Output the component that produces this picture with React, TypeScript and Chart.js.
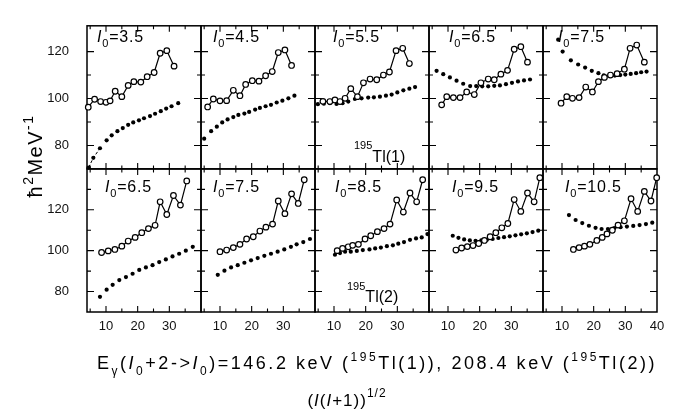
import { useEffect, useRef } from "react";
import { Chart, registerables } from "chart.js";

Chart.register(...registerables);

const FONT = "'Liberation Sans', Arial, sans-serif";

// panel labels (I0 values)
const I0_TOP = ["3.5", "4.5", "5.5", "6.5", "7.5"];
const I0_BOTTOM = ["6.5", "7.5", "8.5", "9.5", "10.5"];

// tick labels
const X_TICKS = [10, 20, 30];
const X_TICKS_LAST = [10, 20, 30, 40];
const Y_TICKS = [80, 100, 120];
const X_MINOR = [5, 10, 15, 20, 25, 30, 35];
const Y_MINOR = [80, 90, 100, 110, 120, 130];

// ---- top row: 195Tl(1) ----
const t1OpenX = [4.4, 6.4, 8.3, 10.0, 11.3, 12.9, 15.0, 17.0, 18.8, 21.0, 23.0, 25.2, 27.1, 29.2, 31.5];
const t1OpenY = [96.3, 99.7, 98.7, 98.4, 99.0, 103.1, 100.8, 105.6, 107.2, 107.0, 109.3, 111.1, 119.3, 120.4, 113.8];
const t1CalcX = [4.5, 6.0, 8.1, 10.2, 11.8, 13.6, 15.3, 17.0, 18.6, 20.4, 22.0, 23.9, 25.5, 27.3, 29.0, 30.7, 32.8];
const t1CalcY = [70.6, 74.7, 78.8, 82.2, 84.3, 86.1, 87.4, 88.8, 89.8, 90.7, 91.6, 92.5, 93.5, 94.6, 95.7, 96.7, 98.0];

const t2OpenX = [6.1, 7.9, 10.0, 12.1, 14.2, 16.3, 18.1, 20.2, 22.3, 24.4, 26.5, 28.4, 30.5, 32.6];
const t2OpenY = [96.4, 99.8, 99.0, 99.1, 103.5, 101.2, 106.0, 107.6, 107.4, 109.7, 111.5, 119.6, 120.7, 114.1];
const t2CalcX = [5.0, 7.2, 9.0, 10.7, 12.4, 14.2, 15.8, 17.7, 19.2, 21.1, 22.6, 24.4, 26.1, 27.9, 29.7, 31.6, 33.5];
const t2CalcY = [82.9, 86.1, 88.0, 89.8, 91.1, 92.1, 93.0, 93.6, 94.3, 95.3, 96.0, 96.7, 97.3, 98.3, 99.1, 100.1, 101.2];

const t3OpenX = [6.5, 8.7, 10.3, 11.9, 13.5, 15.3, 17.4, 19.3, 21.4, 23.5, 25.6, 27.5, 29.6, 31.7, 33.8];
const t3OpenY = [98.8, 98.7, 99.4, 98.7, 100.1, 104.2, 100.8, 106.7, 108.3, 108.0, 110.0, 111.3, 120.4, 121.4, 114.9];
const t3CalcX = [4.9, 6.8, 8.7, 10.8, 12.7, 14.5, 16.6, 18.7, 20.8, 22.6, 24.5, 26.4, 28.2, 30.0, 31.9, 33.8, 35.6];
const t3CalcY = [97.6, 97.8, 98.0, 97.7, 98.0, 98.7, 99.8, 100.1, 100.4, 100.5, 100.8, 101.2, 101.7, 102.6, 103.5, 104.2, 104.9];

const t4OpenX = [8.0, 9.6, 11.7, 13.8, 15.9, 18.3, 20.4, 22.7, 24.6, 26.7, 28.8, 30.9, 33.0, 35.1];
const t4OpenY = [97.3, 100.8, 100.4, 100.4, 102.8, 101.7, 106.7, 108.3, 108.0, 110.4, 112.0, 121.0, 122.1, 115.5];
const t4CalcX = [6.4, 8.5, 10.6, 12.7, 14.8, 17.0, 18.9, 20.8, 22.7, 24.6, 26.4, 28.3, 30.2, 32.1, 34.0, 35.9];
const t4CalcY = [111.8, 110.4, 109.0, 107.6, 106.3, 105.3, 105.3, 105.2, 105.2, 105.4, 105.6, 106.1, 106.7, 107.3, 107.7, 108.1];

const t5OpenX = [9.7, 11.5, 13.3, 15.4, 17.5, 19.6, 21.5, 23.4, 25.3, 27.4, 29.7, 31.5, 33.6, 36.0];
const t5OpenY = [98.0, 100.8, 100.1, 100.4, 104.9, 102.8, 107.2, 109.0, 110.0, 110.6, 112.5, 121.4, 122.8, 115.5];
const t5CalcX = [8.8, 10.2, 12.8, 15.1, 17.3, 19.4, 21.5, 23.2, 25.0, 26.7, 28.4, 30.0, 31.7, 33.4, 35.0, 36.7];
const t5CalcY = [125.1, 120.0, 116.3, 114.5, 113.2, 111.8, 110.8, 109.9, 109.7, 109.8, 110.0, 110.2, 110.5, 110.8, 111.2, 111.5];

// ---- bottom row: 195Tl(2) ----
const b1OpenX = [8.6, 10.7, 12.8, 15.0, 17.0, 19.2, 21.3, 23.4, 25.5, 27.1, 29.2, 31.3, 33.5, 35.5];
const b1OpenY = [99.1, 99.9, 100.6, 102.2, 104.7, 106.5, 108.8, 110.8, 112.4, 123.9, 117.7, 127.0, 122.3, 134.1];
const b1CalcX = [8.1, 10.2, 12.1, 14.2, 16.3, 18.4, 20.5, 22.6, 24.7, 26.8, 28.9, 31.0, 33.1, 35.2, 37.4];
const b1CalcY = [77.4, 80.9, 83.3, 85.6, 87.1, 88.7, 90.6, 91.8, 92.9, 94.4, 95.7, 97.2, 98.5, 100.0, 101.9];

const b2OpenX = [10.0, 12.1, 14.2, 16.3, 18.4, 20.5, 22.6, 24.5, 26.6, 28.4, 30.5, 32.6, 34.7, 36.6];
const b2OpenY = [99.5, 100.3, 101.5, 103.1, 105.7, 106.8, 109.6, 111.5, 113.0, 124.3, 118.1, 127.8, 123.1, 134.7];
const b2CalcX = [9.3, 11.4, 13.5, 15.6, 17.7, 19.8, 21.9, 24.0, 26.1, 28.2, 30.3, 32.4, 34.2, 36.3, 38.4];
const b2CalcY = [88.2, 90.2, 91.8, 92.9, 94.1, 95.3, 96.4, 97.5, 98.5, 99.5, 100.6, 101.9, 103.1, 104.2, 105.7];

const b3OpenX = [11.0, 12.7, 14.5, 15.9, 17.7, 19.8, 21.6, 23.7, 25.8, 27.7, 29.8, 31.9, 34.0, 36.1, 38.0];
const b3OpenY = [100.0, 101.1, 101.9, 102.6, 103.1, 105.7, 107.3, 109.3, 110.8, 113.0, 124.8, 118.9, 128.2, 123.9, 134.7];
const b3CalcX = [10.3, 11.9, 13.5, 15.3, 17.2, 19.1, 21.2, 23.0, 24.8, 26.7, 28.6, 30.3, 32.1, 34.0, 35.9, 37.7, 39.5];
const b3CalcY = [98.0, 98.8, 99.5, 99.5, 99.9, 100.3, 100.6, 101.1, 101.5, 102.2, 102.6, 103.4, 104.2, 105.3, 106.0, 106.5, 108.1];

const b4OpenX = [12.5, 14.3, 16.1, 17.9, 19.7, 21.5, 23.3, 25.1, 27.0, 28.9, 30.9, 33.0, 35.1, 37.2, 39.0];
const b4OpenY = [100.3, 101.3, 102.0, 102.5, 103.5, 105.0, 106.8, 108.8, 111.2, 113.3, 125.0, 119.2, 128.2, 123.9, 135.7];
const b4CalcX = [11.5, 13.3, 15.1, 16.9, 18.7, 20.5, 22.3, 24.1, 25.9, 27.7, 29.5, 31.3, 33.1, 34.9, 36.7, 38.5];
const b4CalcY = [107.3, 106.3, 105.5, 105.0, 104.8, 105.0, 105.3, 105.7, 106.2, 106.6, 107.0, 107.5, 108.0, 108.5, 109.1, 109.8];

const b5OpenX = [13.6, 15.4, 17.1, 18.8, 21.0, 22.7, 24.2, 25.9, 27.7, 29.7, 31.8, 33.9, 36.0, 38.1, 39.9];
const b5OpenY = [100.6, 101.5, 102.2, 103.1, 105.0, 106.5, 108.2, 110.0, 112.5, 114.6, 125.4, 119.2, 129.0, 124.3, 135.7];
const b5CalcX = [12.2, 14.3, 16.4, 18.5, 20.6, 22.5, 24.5, 26.5, 28.5, 30.5, 32.5, 34.5, 36.5, 38.5];
const b5CalcY = [117.4, 115.0, 113.5, 112.2, 111.2, 110.6, 110.6, 111.0, 111.5, 111.8, 112.1, 112.5, 113.0, 113.7];

const PANELS = [
  { ox: t1OpenX, oy: t1OpenY, cx: t1CalcX, cy: t1CalcY },
  { ox: t2OpenX, oy: t2OpenY, cx: t2CalcX, cy: t2CalcY },
  { ox: t3OpenX, oy: t3OpenY, cx: t3CalcX, cy: t3CalcY },
  { ox: t4OpenX, oy: t4OpenY, cx: t4CalcX, cy: t4CalcY },
  { ox: t5OpenX, oy: t5OpenY, cx: t5CalcX, cy: t5CalcY },
  { ox: b1OpenX, oy: b1OpenY, cx: b1CalcX, cy: b1CalcY },
  { ox: b2OpenX, oy: b2OpenY, cx: b2CalcX, cy: b2CalcY },
  { ox: b3OpenX, oy: b3OpenY, cx: b3CalcX, cy: b3CalcY },
  { ox: b4OpenX, oy: b4OpenY, cx: b4CalcX, cy: b4CalcY },
  { ox: b5OpenX, oy: b5OpenY, cx: b5CalcX, cy: b5CalcY },
];

type Seg = { t: string; k?: "i" | "sub" | "sup" };

function segFont(k: string | undefined, size: number) {
  const s = k === "sub" || k === "sup" ? Math.round(size * 0.68) : size;
  return `${k === "i" ? "italic " : ""}${s}px ${FONT}`;
}

function measureRich(ctx: CanvasRenderingContext2D, segs: Seg[], size: number, spacing: number) {
  let w = 0;
  let n = 0;
  for (const s of segs) {
    ctx.font = segFont(s.k, size);
    for (const ch of Array.from(s.t)) {
      w += ctx.measureText(ch).width + spacing;
      n++;
    }
  }
  return { w, n };
}

function drawRich(
  ctx: CanvasRenderingContext2D,
  segs: Seg[],
  x: number,
  y: number,
  size: number,
  opts: { spacing?: number; supShift?: number; subShift?: number; align?: "left" | "center" } = {}
) {
  const spacing = opts.spacing ?? 0;
  const supShift = opts.supShift ?? size * 0.42;
  const subShift = opts.subShift ?? size * 0.3;
  const { w } = measureRich(ctx, segs, size, spacing);
  let cx = opts.align === "center" ? x - w / 2 : x;
  ctx.textAlign = "left";
  ctx.textBaseline = "alphabetic";
  for (const s of segs) {
    ctx.font = segFont(s.k, size);
    const dy = s.k === "sub" ? subShift : s.k === "sup" ? -supShift : 0;
    for (const ch of Array.from(s.t)) {
      ctx.fillText(ch, cx, y + dy);
      cx += ctx.measureText(ch).width + spacing;
    }
  }
  return w;
}

const annotPlugin = {
  id: "panelFrames",
  beforeDatasetsDraw(chart: any) {
    const ctx: CanvasRenderingContext2D = chart.ctx;
    ctx.save();
    ctx.strokeStyle = "#000";
    for (const yId of ["yT", "yB"]) {
      const ys = chart.scales[yId];
      for (let c = 0; c < 5; c++) {
        const xs = chart.scales["x" + c];
        const L = xs.left, R = xs.right, T = ys.top, B = ys.bottom;
        ctx.lineWidth = 1.5;
        ctx.strokeRect(L, T, R - L, B - T);
        ctx.lineWidth = 1.1;
        ctx.beginPath();
        for (const v of X_MINOR) {
          const px = xs.getPixelForValue(v);
          if (px <= L + 2 || px >= R - 2) continue;
          const len = v % 10 === 0 ? 6 : 3.5;
          ctx.moveTo(px, B); ctx.lineTo(px, B - len);
          ctx.moveTo(px, T); ctx.lineTo(px, T + len);
        }
        for (const v of Y_MINOR) {
          const py = ys.getPixelForValue(v);
          if (py <= T + 3 || py >= B - 3) continue;
          const len = v % 20 === 0 ? 7 : 4;
          ctx.moveTo(L, py); ctx.lineTo(L + len, py);
          ctx.moveTo(R, py); ctx.lineTo(R - len, py);
        }
        ctx.stroke();
      }
    }
    ctx.restore();
  },
  afterDraw(chart: any) {
    const ctx: CanvasRenderingContext2D = chart.ctx;
    ctx.save();
    ctx.fillStyle = "#000";
    const yT = chart.scales.yT, yB = chart.scales.yB;
    const topOff = [10, 12, 18, 20, 15];
    const botOff = [18, 12, 20, 23, 22];
    for (let c = 0; c < 5; c++) {
      const xs = chart.scales["x" + c];
      drawRich(ctx, [{ t: "I", k: "i" }, { t: "0", k: "sub" }, { t: "=" + I0_TOP[c] }], xs.left + topOff[c], yT.top + 16, 16, { subShift: 5, spacing: 0.8 });
      drawRich(ctx, [{ t: "I", k: "i" }, { t: "0", k: "sub" }, { t: "=" + I0_BOTTOM[c] }], xs.left + botOff[c], yB.top + 23, 16, { subShift: 5, spacing: 0.8 });
    }
    // isotope labels
    const x2 = chart.scales.x2;
    drawRich(ctx, [{ t: "195", k: "sup" }, { t: "Tl(1)" }], x2.left + 39, yT.top + 136, 16, { supShift: 13 });
    drawRich(ctx, [{ t: "195", k: "sup" }, { t: "Tl(2)" }], x2.left + 32, yB.top + 133, 16, { supShift: 12 });

    // x-axis title
    const line1: Seg[] = [
      { t: "E" }, { t: "γ", k: "sub" }, { t: "(" }, { t: "I", k: "i" }, { t: "0", k: "sub" },
      { t: "+2->" }, { t: "I", k: "i" }, { t: "0", k: "sub" },
      { t: ")=146.2 keV (" }, { t: "195", k: "sup" }, { t: "Tl(1)), 208.4 keV (" },
      { t: "195", k: "sup" }, { t: "Tl(2))" },
    ];
    const size1 = 18;
    const target = 560;
    const m = measureRich(ctx, line1, size1, 0);
    const sp = Math.max(0, (target - m.w) / m.n);
    drawRich(ctx, line1, 97, 369, size1, { spacing: sp, subShift: 6 });
    const line2: Seg[] = [{ t: "(" }, { t: "I", k: "i" }, { t: "(" }, { t: "I", k: "i" }, { t: "+1))" }, { t: "1/2", k: "sup" }];
    drawRich(ctx, line2, 347, 406, 17, { align: "center", spacing: 1, supShift: 9 });

    // y-axis title
    ctx.translate(42, 156);
    ctx.rotate(-Math.PI / 2);
    drawRich(ctx, [{ t: "ħ" }, { t: "2", k: "sup" }, { t: "MeV" }, { t: "-1", k: "sup" }], 0, 0, 20, { align: "center", spacing: 1.5, supShift: 9 });
    ctx.restore();
  },
};

function xScale(i: number) {
  return {
    type: "linear",
    position: "bottom",
    stack: "cols",
    stackWeight: 1,
    min: 4,
    max: 40,
    grid: { display: false, drawTicks: false },
    border: { display: false },
    ticks: { font: { family: FONT, size: 13 }, color: "#111", padding: 7, maxRotation: 0, autoSkip: false },
    afterBuildTicks: (s: any) => {
      s.ticks = (i === 4 ? X_TICKS_LAST : X_TICKS).map((value) => ({ value }));
    },
    afterFit: (s: any) => {
      s.height = 24;
    },
  };
}

function yScale(min: number, max: number, weight: number) {
  return {
    type: "linear",
    position: "left",
    stack: "rows",
    stackWeight: 1,
    weight,
    min,
    max,
    grid: { display: false, drawTicks: false },
    border: { display: false },
    ticks: { font: { family: FONT, size: 13 }, color: "#111", padding: 18 },
    afterBuildTicks: (s: any) => {
      s.ticks = Y_TICKS.map((value) => ({ value }));
    },
    afterFit: (s: any) => {
      s.width = 87;
    },
  };
}

export default function App() {
  const ref = useRef<HTMLCanvasElement | null>(null);
  useEffect(() => {
    if (!ref.current) return;
    const datasets: any[] = [];
    PANELS.forEach((p, i) => {
      const xAxisID = "x" + (i % 5);
      const yAxisID = i < 5 ? "yT" : "yB";
      datasets.push({
        label: "exp" + i,
        data: p.ox.map((x, j) => ({ x, y: p.oy[j] })),
        xAxisID, yAxisID,
        showLine: true,
        borderColor: "#000",
        borderWidth: 1.2,
        pointRadius: 2.8,
        pointBackgroundColor: "#fff",
        pointBorderColor: "#000",
        pointBorderWidth: 1.2,
        clip: false,
      });
      datasets.push({
        label: "calc" + i,
        data: p.cx.map((x, j) => ({ x, y: p.cy[j] })),
        xAxisID, yAxisID,
        showLine: false,
        pointRadius: 2.1,
        pointBackgroundColor: "#000",
        pointBorderColor: "#000",
        pointBorderWidth: 0,
        clip: false,
      });
    });
    datasets.push({
      label: "calc0-start",
      data: t1CalcX.slice(0, 3).map((x, j) => ({ x, y: t1CalcY[j] })),
      xAxisID: "x0", yAxisID: "yT",
      showLine: true,
      borderColor: "#000",
      borderWidth: 1,
      borderDash: [3, 2],
      pointRadius: 0,
    });

    const chart = new Chart(ref.current, {
      type: "scatter",
      data: { datasets },
      options: {
        responsive: false,
        animation: false,
        layout: { padding: { left: 0, right: 17, top: 15, bottom: 80 } },
        plugins: { legend: { display: false }, title: { display: false }, tooltip: { enabled: false } },
        scales: {
          x0: xScale(0),
          x1: xScale(1),
          x2: xScale(2),
          x3: xScale(3),
          x4: xScale(4),
          yB: yScale(70, 140, 1),
          yT: yScale(70, 131, 2),
        } as any,
      },
      plugins: [annotPlugin as any],
    });
    return () => chart.destroy();
  }, []);
  return (
    <div style={{ position: "fixed", left: 0, top: 0, width: 674, height: 416, background: "#fff" }}>
      <canvas ref={ref} width={674} height={416} style={{ width: 674, height: 416, display: "block" }} />
    </div>
  );
}
